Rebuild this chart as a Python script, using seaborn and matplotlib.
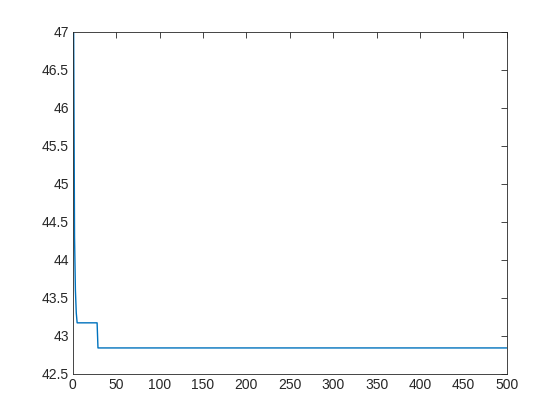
import matplotlib
matplotlib.use('Agg')
import matplotlib.pyplot as plt
import seaborn as sns
import numpy as np
import pandas as pd

sns.set_style('white')
plt.rcParams['font.family'] = ['Liberation Sans', 'DejaVu Sans']

# breakpoints of the curve (flat stretches between them)
iters = [1, 2, 3, 4, 5, 28, 29, 500]
cost = [46.98, 44.3, 43.6, 43.3, 43.17, 43.17, 42.84, 42.84]

df = pd.DataFrame({'iter': iters, 'cost': cost})

fig = plt.figure(figsize=(5.6, 4.2), dpi=100)
ax = fig.add_axes([0.13, 0.11, 0.775, 0.815])
sns.lineplot(data=df, x='iter', y='cost', ax=ax, color='#0072BD', linewidth=1.0)

ax.set_xlim(0, 500)
ax.set_ylim(42.5, 47)
ax.set_xticks(np.arange(0, 501, 50))
yt = np.arange(42.5, 47.01, 0.5)
ax.set_yticks(yt)
ax.set_yticklabels(['%g' % v for v in yt])
ax.set_xlabel('')
ax.set_ylabel('')

for s in ax.spines.values():
    s.set_color('#262626')
    s.set_linewidth(0.6)
ax.tick_params(direction='in', length=4, width=0.6, colors='#262626',
               labelsize=10, top=True, right=True, pad=3)

fig.savefig('out.png', dpi=100)
